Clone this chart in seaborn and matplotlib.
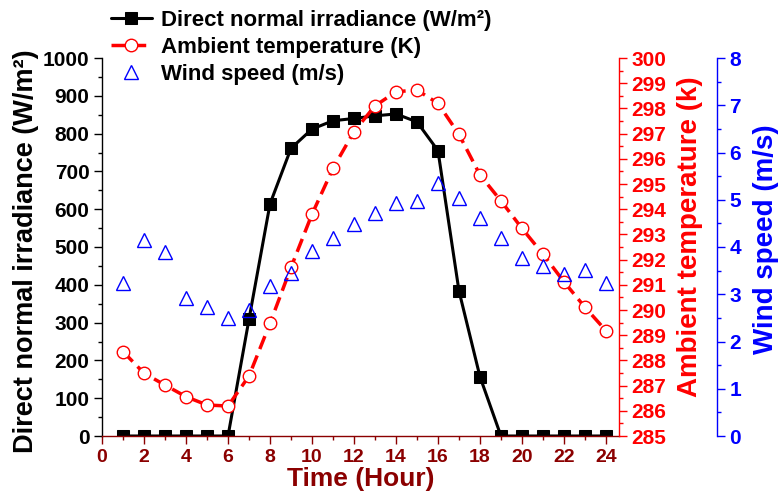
import numpy as np
import pandas as pd
import seaborn as sns
import matplotlib.pyplot as plt
from matplotlib.ticker import MultipleLocator

# hourly data
hours = list(range(1, 25))
dni = [0, 0, 0, 0, 0, 0, 309, 614, 761, 812, 834, 840,
       847, 852, 831, 755, 384, 157, 0, 0, 0, 0, 0, 0]
temp = [288.35, 287.49, 287.02, 286.56, 286.23, 286.19, 287.38, 289.47,
        291.69, 293.80, 295.62, 297.08, 298.10, 298.66, 298.73, 298.20,
        296.97, 295.36, 294.33, 293.24, 292.22, 291.12, 290.11, 289.18]
wind = [3.23, 4.15, 3.89, 2.93, 2.74, 2.50, 2.67, 3.17, 3.46, 3.92, 4.18, 4.49,
        4.71, 4.94, 4.97, 5.36, 5.03, 4.61, 4.18, 3.76, 3.60, 3.42, 3.51, 3.24]

MAROON = '#8B0000'
RED = '#FF0000'
BLUE = '#0000FF'

sns.set_style('ticks')
plt.rcParams['font.family'] = ['Liberation Sans', 'DejaVu Sans']
plt.rcParams['font.weight'] = 'bold'
plt.rcParams['axes.labelweight'] = 'bold'
plt.rcParams['text.color'] = 'black'

fig = plt.figure(figsize=(7.79, 5), dpi=100)
ax = fig.add_axes([0.131, 0.128, 0.663, 0.756])
ax2 = ax.twinx()
ax3 = ax.twinx()
ax3.spines['right'].set_position(('axes', 1.19))

sns.lineplot(x=hours, y=dni, ax=ax, color='black', marker='s', markersize=8.5,
             markeredgecolor='black', linewidth=2.2,
             label='Direct normal irradiance (W/m\u00b2)', legend=False)
sns.lineplot(x=hours, y=temp, ax=ax2, color=RED, marker='o', markersize=9,
             markerfacecolor='white', markeredgecolor=RED, markeredgewidth=1.0,
             linewidth=2.5, dashes=False, linestyle=(0, (4, 2)),
             label='Ambient temperature (K)', legend=False)
sns.lineplot(x=hours, y=wind, ax=ax3, color=BLUE, marker='^', markersize=9.5,
             markerfacecolor='none', markeredgecolor=BLUE, markeredgewidth=1.0,
             linewidth=0, label='Wind speed (m/s)', legend=False)

ax.set_xlim(0, 24.6)
ax.set_ylim(0, 1000)
ax2.set_ylim(285, 300)
ax3.set_ylim(0, 8)

ax.xaxis.set_major_locator(MultipleLocator(2))
ax.xaxis.set_minor_locator(MultipleLocator(1))
ax.yaxis.set_major_locator(MultipleLocator(100))
ax.yaxis.set_minor_locator(MultipleLocator(50))
ax2.yaxis.set_major_locator(MultipleLocator(1))
ax2.yaxis.set_minor_locator(MultipleLocator(0.5))
ax3.yaxis.set_major_locator(MultipleLocator(1))
ax3.yaxis.set_minor_locator(MultipleLocator(0.5))

for a in (ax, ax2, ax3):
    a.spines['top'].set_visible(False)
ax.spines['right'].set_visible(False)
ax2.spines['left'].set_visible(False)
ax2.spines['bottom'].set_visible(False)
ax3.spines['left'].set_visible(False)
ax3.spines['bottom'].set_visible(False)

ax.spines['left'].set_color('black')
ax.spines['bottom'].set_color(MAROON)
ax2.spines['right'].set_color(RED)
ax3.spines['right'].set_color(BLUE)
for a in (ax, ax2, ax3):
    for s in a.spines.values():
        s.set_linewidth(1.0)

ax.tick_params(axis='y', which='major', direction='out', length=6, colors='black',
               labelsize=15, width=1, pad=3)
ax.tick_params(axis='y', which='minor', direction='out', length=3, colors='black', width=1)
ax.tick_params(axis='x', which='major', direction='out', length=5.5, colors=MAROON,
               labelsize=14, width=1, pad=4)
ax.tick_params(axis='x', which='minor', direction='out', length=3, colors=MAROON, width=1)
ax2.tick_params(axis='y', which='major', direction='out', length=6, colors=RED,
                labelsize=15, width=1, pad=3)
ax2.tick_params(axis='y', which='minor', direction='out', length=3, colors=RED, width=1)
ax3.tick_params(axis='y', which='major', direction='out', length=6, colors=BLUE,
                labelsize=15, width=1, pad=3)
ax3.tick_params(axis='y', which='minor', direction='out', length=3, colors=BLUE, width=1)

for lab in ax.get_xticklabels() + ax.get_yticklabels() + ax2.get_yticklabels() + ax3.get_yticklabels():
    lab.set_fontweight('bold')

ax.set_xlabel('Time (Hour)', fontsize=19, color=MAROON, fontweight='bold', labelpad=0.5)
ax.set_ylabel('Direct normal irradiance (W/m\u00b2)', fontsize=19.5, color='black',
              fontweight='bold', labelpad=3)
ax2.set_ylabel('Ambient temperature (k)', fontsize=20, color=RED, fontweight='bold',
               labelpad=8)
ax3.set_ylabel('Wind speed (m/s)', fontsize=20, color=BLUE, fontweight='bold',
               labelpad=9)
ax.yaxis.label.set_y(0.49)
ax2.yaxis.label.set_y(0.528)
ax3.yaxis.label.set_y(0.521)

handles = ax.lines[:1] + ax2.lines[:1] + ax3.lines[:1]
labels = [h.get_label() for h in handles]
leg = fig.legend(handles=handles, labels=labels, loc='upper left',
                 bbox_to_anchor=(0.122, 1.012), frameon=False,
                 handlelength=1.85, handletextpad=0.4, labelspacing=0.28, borderpad=0.2,
                 prop={'weight': 'bold', 'size': 16})
for t in leg.get_texts():
    t.set_color('black')

fig.savefig('out.png', dpi=100)
